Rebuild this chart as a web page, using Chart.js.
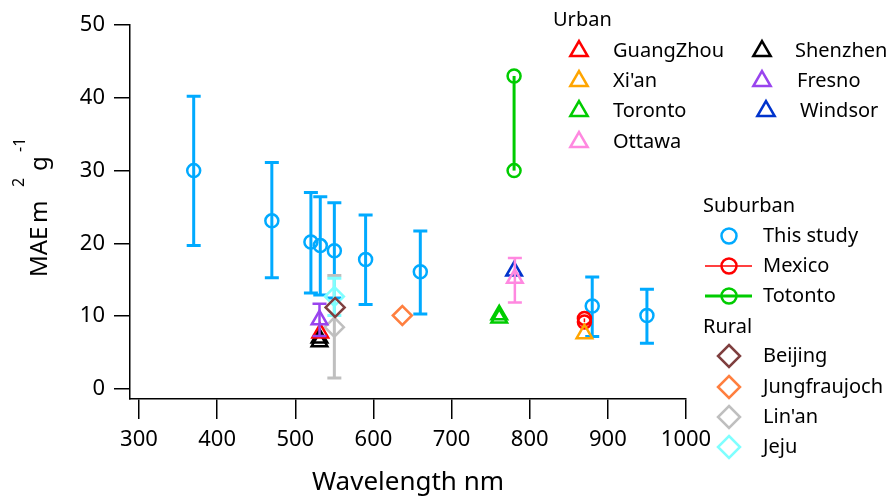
<!DOCTYPE html>
<html><head><meta charset="utf-8">
<script src="https://cdn.jsdelivr.net/npm/chart.js@4/dist/chart.umd.min.js"></script>
<style>html,body{margin:0;padding:0;background:#fff;}canvas{display:block;}</style>
</head><body>
<canvas id="c" width="894" height="498"></canvas>
<script>
// ---- tick labels ----
const xTicks = [300, 400, 500, 600, 700, 800, 900, 1000];
const yTicks = [0, 10, 20, 30, 40, 50];

// ---- Suburban: This study (mean, lower, upper) ----
const studyX  = [370, 470, 520, 532, 550, 590, 660, 880, 950];
const studyY  = [30.0, 23.1, 20.2, 19.7, 19.0, 17.8, 16.1, 11.4, 10.1];
const studyLo = [19.7, 15.3, 13.2, 12.9, 12.5, 11.6, 10.3, 7.2, 6.3];
const studyHi = [40.2, 31.1, 27.0, 26.4, 25.6, 23.9, 21.7, 15.4, 13.7];

// ---- Suburban: other ----
const mexicoX = [870, 870];
const mexicoY = [9.2, 9.7];
const totontoX = [780, 780];
const totontoY = [30.0, 43.0];

// ---- Urban ----
const guangzhouX = [532];  const guangzhouY = [7.7];
const xianX = [870];       const xianY = [7.6];
const torontoX = [761, 761]; const torontoY = [9.75, 10.2];
const ottawaX = [781];     const ottawaY = [15.2]; const ottawaLo = [11.9]; const ottawaHi = [18.0];
const shenzhenX = [531, 531]; const shenzhenY = [6.5, 7.0];
const fresnoX = [531];     const fresnoY = [9.5]; const fresnoLo = [7.3]; const fresnoHi = [11.7];
const windsorX = [780];    const windsorY = [16.2];

// ---- Rural ----
const beijingX = [551];    const beijingY = [11.2];
const jungX = [637];       const jungY = [10.1];
const linanX = [550];      const linanY = [8.5]; const linanLo = [1.5]; const linanHi = [15.6];
const jejuX = [550];       const jejuY = [12.7]; const jejuLo = [10.1]; const jejuHi = [15.2];

const FONT = 'Noto Sans';

function pts(xs, ys) { return xs.map((x, i) => ({ x: x, y: ys[i] })); }

function mk(label, xs, ys, color, style, r, order, extra) {
  return Object.assign({
    label: label,
    data: pts(xs, ys),
    pointStyle: style,
    pointRadius: r,
    pointHoverRadius: r,
    pointBorderWidth: 2.5,
    pointBorderColor: color,
    pointBackgroundColor: 'rgba(0,0,0,0)',
    borderColor: color,
    backgroundColor: 'rgba(0,0,0,0)',
    showLine: false,
    order: order
  }, extra || {});
}

const C = {
  study: '#00AAFF', red: '#FF0000', xian: '#FFA500', green: '#00CC00', pink: '#FF88E0',
  black: '#000000', purple: '#9944EE', windsor: '#0033CC', brown: '#7F3F3F',
  jung: '#FF7F3F', gray: '#BFBFBF', cyan: '#7FFFFF'
};

const datasets = [
  mk('This study', studyX, studyY, C.study, 'circle', 6.5, 20, { errLo: studyLo, errHi: studyHi, errWidth: 3 }),
  mk('Mexico', mexicoX, mexicoY, C.red, 'circle', 6.5, 9, { showLine: true, borderWidth: 1.5 }),
  mk('Totonto', totontoX, totontoY, C.green, 'circle', 6.5, 9, { showLine: true, borderWidth: 3 }),
  mk('Lin\'an', linanX, linanY, C.gray, 'rectRot', 9.5, 8, { errLo: linanLo, errHi: linanHi, errWidth: 3 }),
  mk('Jeju', jejuX, jejuY, C.cyan, 'rectRot', 9.5, 7, { errLo: jejuLo, errHi: jejuHi, errWidth: 3 }),
  mk('Beijing', beijingX, beijingY, C.brown, 'rectRot', 9.5, 6),
  mk('Jungfraujoch', jungX, jungY, C.jung, 'rectRot', 9.5, 6),
  mk('Windsor', windsorX, windsorY, C.windsor, 'triangle', 9, 5),
  mk('Ottawa', ottawaX, ottawaY, C.pink, 'triangle', 9, 4, { errLo: ottawaLo, errHi: ottawaHi, errWidth: 2.5 }),
  mk('Toronto', torontoX, torontoY, C.green, 'triangle', 9, 4),
  mk('Xi\'an', xianX, xianY, C.xian, 'triangle', 9, 4),
  mk('Shenzhen', shenzhenX, shenzhenY, C.black, 'triangle', 9, 3),
  mk('GuangZhou', guangzhouX, guangzhouY, C.red, 'triangle', 9, 2),
  mk('Fresno', fresnoX, fresnoY, C.purple, 'triangle', 9, 1, { errLo: fresnoLo, errHi: fresnoHi, errWidth: 2.5 })
];

// error bars drawn through the chart's scales
const errorBarPlugin = {
  id: 'errorBars',
  beforeDatasetDraw(chart, args) {
    const ds = chart.data.datasets[args.index];
    if (!ds.errLo) return;
    const ctx = chart.ctx, xs = chart.scales.x, ys = chart.scales.y;
    ctx.save();
    ctx.strokeStyle = ds.borderColor;
    ctx.lineWidth = ds.errWidth || 3;
    ds.data.forEach((p, i) => {
      const lo = ds.errLo[i], hi = ds.errHi[i];
      if (lo == null || hi == null) return;
      const px = xs.getPixelForValue(p.x);
      const y1 = ys.getPixelForValue(lo), y2 = ys.getPixelForValue(hi);
      ctx.beginPath();
      ctx.moveTo(px, y1); ctx.lineTo(px, y2);
      ctx.moveTo(px - 7, y1); ctx.lineTo(px + 7, y1);
      ctx.moveTo(px - 7, y2); ctx.lineTo(px + 7, y2);
      ctx.stroke();
    });
    ctx.restore();
  }
};

function drawMarker(ctx, style, x, y, r) {
  ctx.beginPath();
  if (style === 'circle') {
    ctx.arc(x, y, r, 0, Math.PI * 2);
  } else if (style === 'triangle') {
    let a = 0;
    for (let k = 0; k < 3; k++) {
      const px = x + Math.sin(a) * r, py = y - Math.cos(a) * r;
      if (k === 0) ctx.moveTo(px, py); else ctx.lineTo(px, py);
      a += Math.PI * 2 / 3;
    }
    ctx.closePath();
  } else if (style === 'rectRot') {
    ctx.moveTo(x, y - r); ctx.lineTo(x + r, y); ctx.lineTo(x, y + r); ctx.lineTo(x - r, y);
    ctx.closePath();
  }
  ctx.stroke();
}

// legend layout
const legendHeaders = [
  { text: 'Urban', x: 553, y: 20 },
  { text: 'Suburban', x: 703, y: 206 },
  { text: 'Rural', x: 703, y: 327 }
];
const legendItems = [
  { label: 'GuangZhou', mx: 579, tx: 613, y: 51 },
  { label: 'Xi\'an', mx: 579, tx: 613, y: 81 },
  { label: 'Toronto', mx: 579, tx: 613, y: 111 },
  { label: 'Ottawa', mx: 579, tx: 613, y: 142 },
  { label: 'Shenzhen', mx: 762, tx: 795, y: 51 },
  { label: 'Fresno', mx: 762, tx: 797, y: 81 },
  { label: 'Windsor', mx: 766, tx: 800, y: 111 },
  { label: 'This study', mx: 729, tx: 763, y: 236 },
  { label: 'Mexico', mx: 729, tx: 763, y: 266, line: true },
  { label: 'Totonto', mx: 729, tx: 763, y: 296, line: true },
  { label: 'Beijing', mx: 729, tx: 763, y: 356 },
  { label: 'Jungfraujoch', mx: 729, tx: 763, y: 387 },
  { label: 'Lin\'an', mx: 729, tx: 763, y: 417 },
  { label: 'Jeju', mx: 729, tx: 763, y: 447 }
];

const legendPlugin = {
  id: 'groupLegend',
  afterDraw(chart) {
    const ctx = chart.ctx;
    ctx.save();
    ctx.font = '20px "' + FONT + '"';
    ctx.fillStyle = '#000';
    ctx.textBaseline = 'middle';
    ctx.textAlign = 'left';
    legendHeaders.forEach(h => ctx.fillText(h.text, h.x, h.y));
    legendItems.forEach(it => {
      const ds = chart.data.datasets.find(d => d.label === it.label);
      ctx.strokeStyle = ds.borderColor;
      if (it.line) {
        ctx.lineWidth = ds.borderWidth;
        ctx.beginPath(); ctx.moveTo(705, it.y); ctx.lineTo(752, it.y); ctx.stroke();
      }
      ctx.lineWidth = 2.5;
      const r = ds.pointStyle === 'circle' ? 7.5 : (ds.pointStyle === 'rectRot' ? 11 : 10);
      drawMarker(ctx, ds.pointStyle, it.mx, it.y, r);
      ctx.fillStyle = '#000';
      ctx.fillText(it.label, it.tx, it.y);
    });
    ctx.restore();
  }
};

// y-axis title with superscripts
const yTitlePlugin = {
  id: 'yTitle',
  afterDraw(chart) {
    const ctx = chart.ctx;
    ctx.save();
    ctx.translate(47, 277);
    ctx.rotate(-Math.PI / 2);
    ctx.fillStyle = '#000';
    ctx.textBaseline = 'alphabetic';
    ctx.textAlign = 'left';
    ctx.font = '24px "' + FONT + '"';
    ctx.fillText('MAE', 0, 0);
    ctx.fillText('m', 54, 0);
    ctx.fillText('g', 106, 0);
    ctx.font = '16px "' + FONT + '"';
    ctx.fillText('2', 90, -23);
    ctx.fillText('-1', 125, -22);
    ctx.restore();
  }
};

new Chart(document.getElementById('c'), {
  type: 'scatter',
  data: { datasets: datasets },
  options: {
    responsive: false,
    animation: false,
    devicePixelRatio: 1,
    events: [],
    layout: { padding: { left: 0, right: 208, top: 25, bottom: 0 } },
    plugins: { legend: { display: false }, tooltip: { enabled: false } },
    scales: {
      x: {
        type: 'linear', min: 288.5, max: 1000,
        afterBuildTicks: s => { s.ticks = xTicks.map(v => ({ value: v })); },
        afterFit: s => { s.height = 99; },
        grid: { drawOnChartArea: false, drawTicks: true, tickLength: 20, color: '#000', lineWidth: 1.5 },
        border: { display: true, color: '#000', width: 1.5 },
        ticks: { color: '#000', font: { family: FONT, size: 22 }, padding: 8, maxRotation: 0, autoSkip: false,
                 callback: v => String(v) },
        title: { display: true, text: 'Wavelength nm', color: '#000', font: { family: FONT, size: 26 }, padding: { top: 0, bottom: 0 } }
      },
      y: {
        type: 'linear', min: -1.37, max: 50,
        afterBuildTicks: s => { s.ticks = yTicks.map(v => ({ value: v })); },
        afterFit: s => { s.width = 130; },
        grid: { drawOnChartArea: false, drawTicks: true, tickLength: 16, color: '#000', lineWidth: 1.5 },
        border: { display: true, color: '#000', width: 1.5 },
        ticks: { color: '#000', font: { family: FONT, size: 22 }, padding: 9, callback: v => String(v) }
      }
    }
  },
  plugins: [errorBarPlugin, legendPlugin, yTitlePlugin]
});
</script>
</body></html>
